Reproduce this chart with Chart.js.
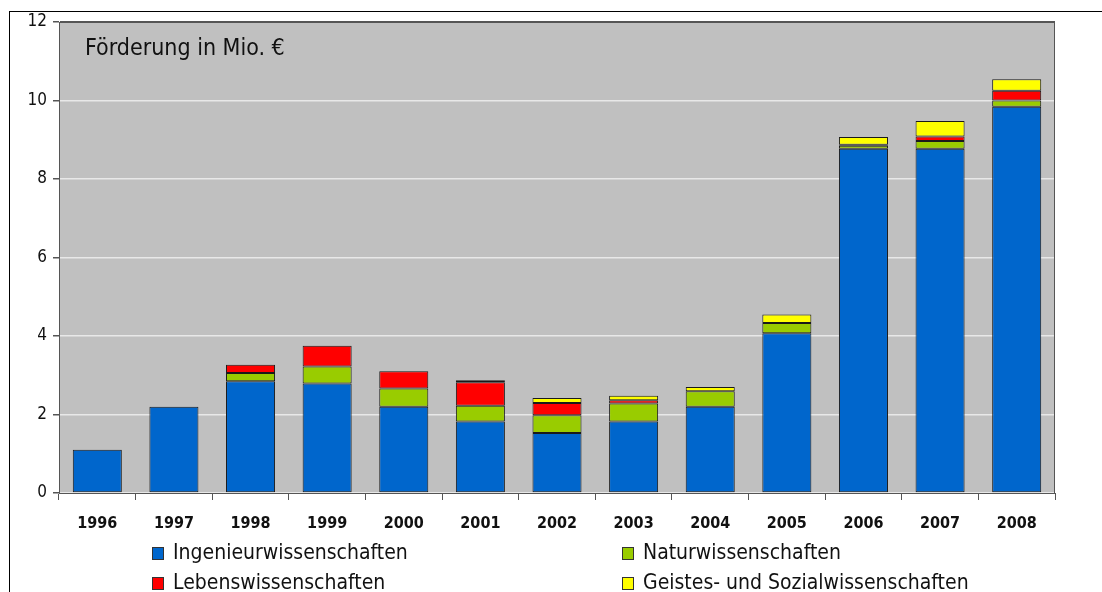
<!DOCTYPE html>
<html>
<head>
<meta charset="utf-8">
<script src="https://cdn.jsdelivr.net/npm/chart.js@4.4.0/dist/chart.umd.min.js"></script>
<style>
  html, body { margin: 0; padding: 0; background: #fff; }
  #wrap { position: relative; width: 1102px; height: 592px; overflow: hidden; }
  #frame { position: absolute; left: 9px; top: 11px; right: 0; bottom: -2px;
           border-top: 1px solid #000; border-left: 1px solid #000; }
  canvas { position: absolute; left: 0; top: 0; }
</style>
</head>
<body>
<div id="wrap">
  <div id="frame"></div>
  <canvas id="myChart" width="1102" height="592"></canvas>
</div>
<script>
var years = ['1996', '1997', '1998', '1999', '2000', '2001', '2002', '2003', '2004', '2005', '2006', '2007', '2008'];
var ingenieur = [1.10, 2.20, 2.85, 2.79, 2.20, 1.82, 1.53, 1.82, 2.20, 4.07, 8.77, 8.77, 9.84];
var natur     = [0.00, 0.00, 0.21, 0.43, 0.46, 0.40, 0.45, 0.46, 0.39, 0.26, 0.08, 0.20, 0.16];
var leben     = [0.00, 0.00, 0.21, 0.53, 0.44, 0.60, 0.31, 0.08, 0.00, 0.00, 0.02, 0.11, 0.25];
var geistes   = [0.00, 0.00, 0.00, 0.00, 0.00, 0.05, 0.13, 0.12, 0.11, 0.22, 0.20, 0.40, 0.29];
var yTicks = [0, 2, 4, 6, 8, 10, 12];

var narrow = "'Liberation Sans Narrow', 'Arial Narrow', 'DejaVu Sans Condensed', sans-serif";

// grey plot background + dark frame + title inside
var plotBg = {
    id: 'plotBg',
    beforeDraw: function (chart) {
        var a = chart.chartArea, c = chart.ctx;
        c.save();
        c.fillStyle = '#c0c0c0';
        c.fillRect(a.left, a.top, a.right - a.left, a.bottom - a.top);
        c.restore();
    },
    afterDraw: function (chart) {
        var a = chart.chartArea, c = chart.ctx;
        c.save();
        c.strokeStyle = '#555';
        c.lineWidth = 1;
        c.strokeRect(a.left + 0.5, a.top + 0.5, a.right - a.left - 1, a.bottom - a.top);
        c.fillStyle = '#111';
        c.font = '23px ' + narrow;
        c.textBaseline = 'alphabetic';
        c.fillText('Förderung in Mio. €', 85, 55);
        c.restore();
    }
};

// two-column legend under the axis
var legend2 = {
    id: 'legend2',
    afterDraw: function (chart) {
        var c = chart.ctx;
        var pos = [[152, 553], [622, 553], [152, 583], [622, 583]];
        c.save();
        c.font = '21px ' + narrow;
        c.textBaseline = 'middle';
        chart.data.datasets.forEach(function (ds, i) {
            var p = pos[i];
            c.fillStyle = ds.backgroundColor;
            c.fillRect(p[0], p[1] - 6, 11, 12);
            c.strokeStyle = '#333';
            c.strokeRect(p[0] + 0.5, p[1] - 5.5, 11, 12);
            c.fillStyle = '#111';
            c.fillText(ds.label, p[0] + 21, p[1] + 1);
        });
        c.restore();
    }
};

var ctx = document.getElementById('myChart').getContext('2d');
var chart = new Chart(ctx, {
    type: 'bar',
    data: {
        labels: years,
        datasets: [
            { label: 'Ingenieurwissenschaften', data: ingenieur, backgroundColor: '#0066cc' },
            { label: 'Naturwissenschaften', data: natur, backgroundColor: '#99cc00' },
            { label: 'Lebenswissenschaften', data: leben, backgroundColor: '#ff0000' },
            { label: 'Geistes- und Sozialwissenschaften', data: geistes, backgroundColor: '#ffff00' }
        ]
    },
    options: {
        responsive: false,
        animation: false,
        devicePixelRatio: 1,
        layout: { padding: { top: 22, right: 47, left: 0, bottom: 0 } },
        datasets: {
            bar: {
                borderColor: '#1a1a1a',
                borderWidth: function (c) { return c.raw ? 1 : 0; },
                borderSkipped: false,
                categoryPercentage: 1,
                barPercentage: 0.64
            }
        },
        plugins: {
            legend: { display: false },
            tooltip: { enabled: false }
        },
        scales: {
            x: {
                stacked: true,
                afterFit: function (s) { s.height = 99; },
                grid: { drawOnChartArea: false, offset: true, tickLength: 7, tickColor: '#555' },
                border: { color: '#555' },
                ticks: { color: '#111', padding: 14, font: { family: narrow, size: 16, weight: 'bold' } }
            },
            y: {
                stacked: true,
                min: 0,
                max: 12,
                afterFit: function (s) { s.width = 59; },
                afterBuildTicks: function (s) { s.ticks = yTicks.map(function (v) { return { value: v }; }); },
                grid: {
                    color: function (c) { return c.tick && c.tick.value === 12 ? '#555' : '#e8e8e8'; },
                    lineWidth: 1.5,
                    tickLength: 6,
                    tickColor: '#555'
                },
                border: { color: '#555' },
                ticks: { color: '#111', padding: 6, font: { family: narrow, size: 17 } }
            }
        }
    },
    plugins: [plotBg, legend2]
});
</script>
</body>
</html>
